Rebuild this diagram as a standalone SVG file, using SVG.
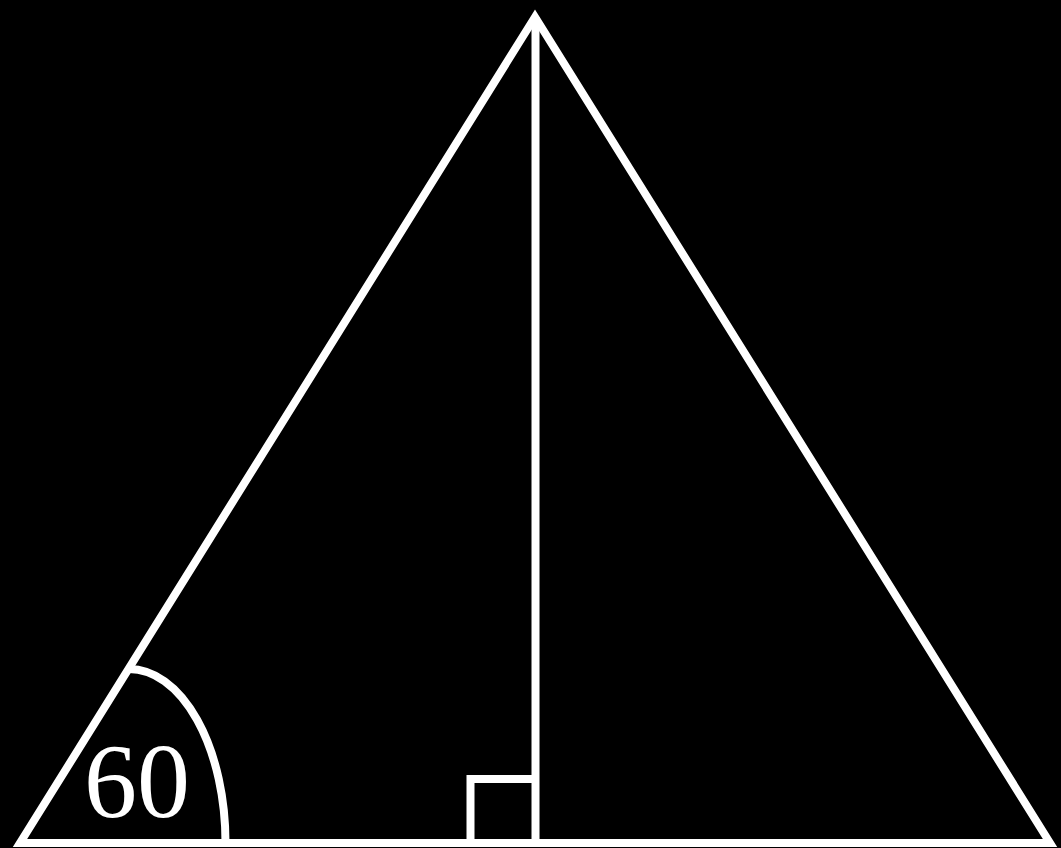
<svg xmlns="http://www.w3.org/2000/svg" width="1061" height="848" viewBox="0 0 1061 848">
<style>
.ln{fill:none;stroke:#fff;stroke-width:8;stroke-linejoin:miter;stroke-miterlimit:10}
.lbl{fill:#fff;font-family:"Liberation Serif","Times New Roman",serif;font-size:106px;text-anchor:middle}
</style>
<rect x="0" y="0" width="1061" height="848" fill="#000"/>
<g id="triangle">
<polygon class="ln" points="535,17 20,843 1050,843"/>
</g>
<g id="connectors">
<line class="ln" x1="535.5" y1="17" x2="535.5" y2="843"/>
<polyline class="ln" points="470.5,843 470.5,779 535.5,779"/>
<path class="ln" d="M 129 669 A 96.5 174 0 0 1 225.5 843"/>
</g>
<g id="angle-label">
<text class="lbl" x="137" y="817">60</text>
</g>
</svg>
